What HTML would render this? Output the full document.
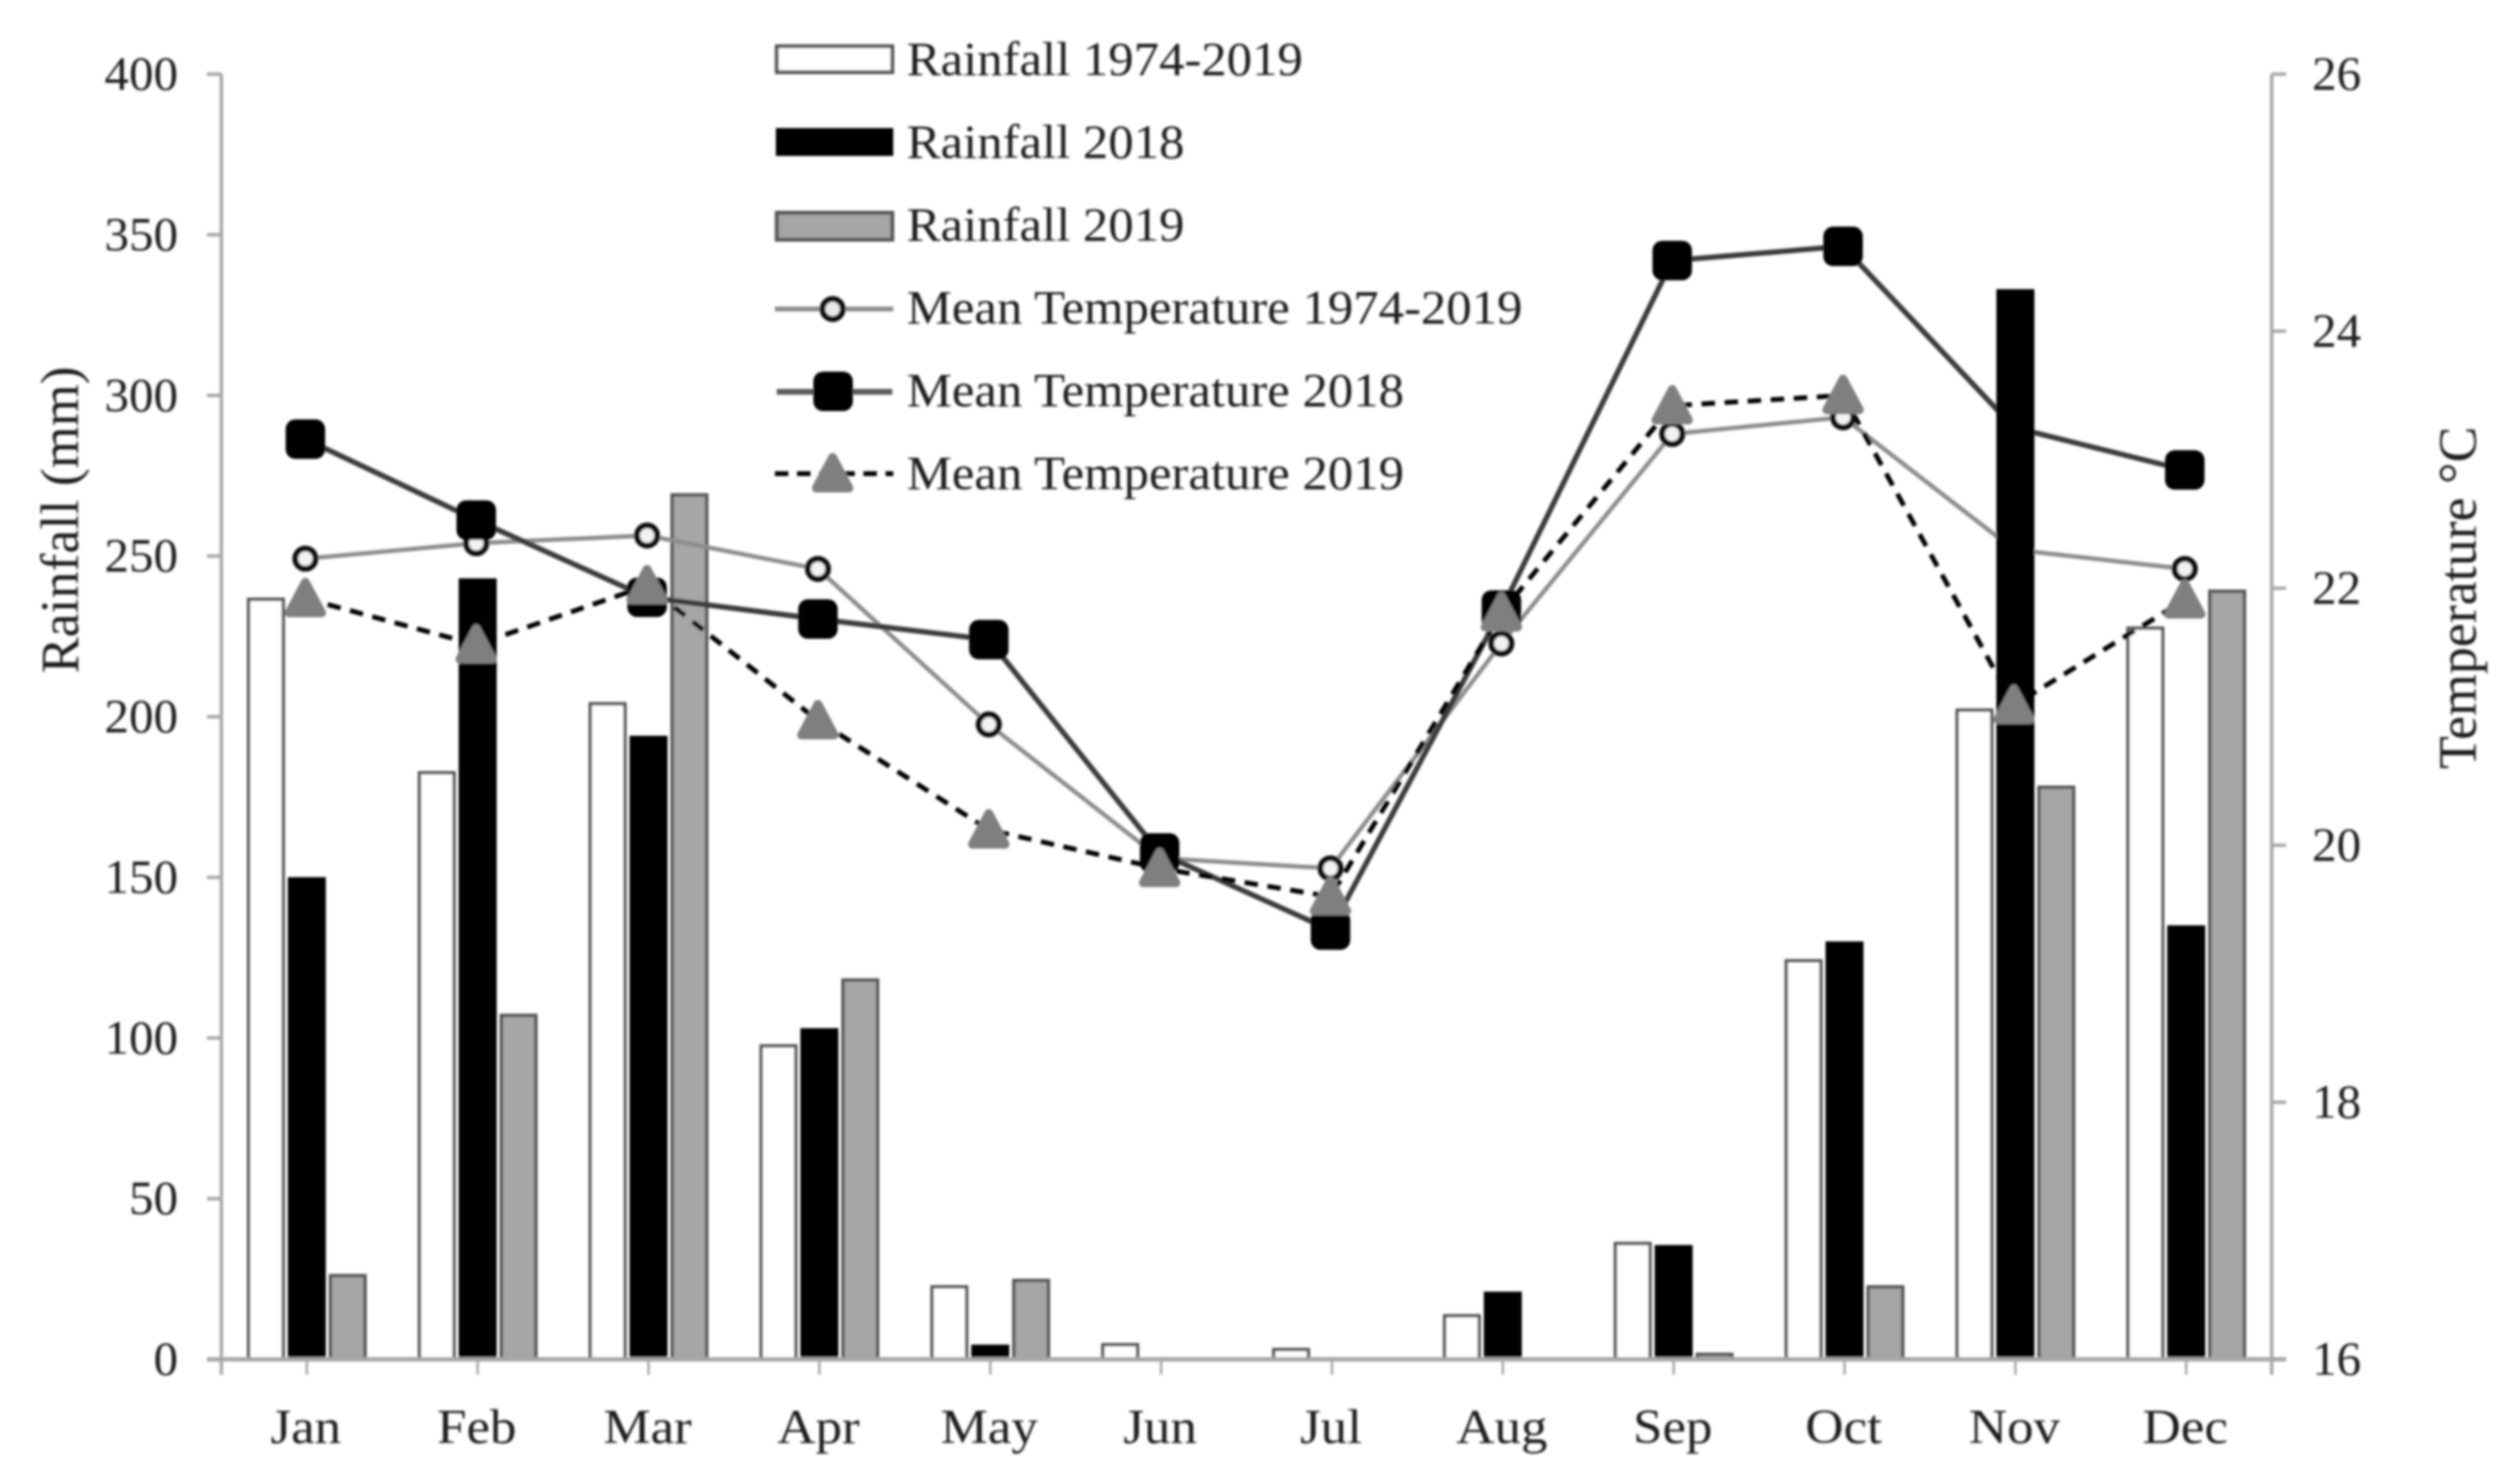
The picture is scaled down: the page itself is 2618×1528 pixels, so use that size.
<!DOCTYPE html>
<html lang="en">
<head>
<meta charset="utf-8">
<title>Rainfall and Temperature</title>
<style>
html,body{margin:0;padding:0;background:#fff;width:2618px;height:1528px;overflow:hidden}
svg{display:block}
text{font-family:"Liberation Serif",serif;fill:#1c1c1c}
</style>
</head>
<body>
<svg id="chart" xmlns="http://www.w3.org/2000/svg" width="2618" height="1528" viewBox="0 0 2618 1528">
<defs>
<filter id="soft" x="0" y="0" width="100%" height="100%" filterUnits="userSpaceOnUse" primitiveUnits="userSpaceOnUse"><feGaussianBlur stdDeviation="1.25"/></filter>
</defs>
<g id="root" filter="url(#soft)">
<g id="bars-back"></g>
<g id="lines"></g>
<g id="bars-front"></g>
<g id="axes"></g>
<g id="markers"></g>
<text transform="translate(81,540) rotate(-90)" text-anchor="middle" font-size="56">Rainfall (mm)</text>
<text transform="translate(2572,621) rotate(-90)" text-anchor="middle" font-size="56">Temperature °C</text>
<g id="legend">
  <g>
    <rect x="807" y="48" width="120" height="27" fill="#fff" stroke="#555555" stroke-width="4"/>
    <text transform="translate(942,78) scale(1.055,1)" font-size="50">Rainfall 1974-2019</text>
  </g>
  <g>
    <rect x="807" y="134" width="120" height="27" fill="#000" stroke="#000" stroke-width="2"/>
    <text transform="translate(942,164) scale(1.055,1)" font-size="50">Rainfall 2018</text>
  </g>
  <g>
    <rect x="807" y="221" width="120" height="28" fill="#a6a6a6" stroke="#555555" stroke-width="4"/>
    <text transform="translate(942,250) scale(1.055,1)" font-size="50">Rainfall 2019</text>
  </g>
  <g>
    <line x1="805" x2="928" y1="321" y2="321" stroke="#8c8c8c" stroke-width="5"/>
    <circle cx="865" cy="321" r="10.5" fill="#e8e8e8" stroke="#111111" stroke-width="6"/>
    <text transform="translate(942,336) scale(1.055,1)" font-size="50">Mean Temperature 1974-2019</text>
  </g>
  <g>
    <line x1="807" x2="927" y1="407" y2="407" stroke="#595959" stroke-width="6"/>
    <rect x="845" y="386" width="41" height="41" rx="10" fill="#000"/>
    <text transform="translate(942,422) scale(1.055,1)" font-size="50">Mean Temperature 2018</text>
  </g>
  <g>
    <line x1="805" x2="928" y1="492" y2="492" stroke="#000" stroke-width="5" stroke-dasharray="14 9"/>
    <polygon points="865,475 848,507 882,507" fill="#7f7f7f" stroke="#7f7f7f" stroke-width="9" stroke-linejoin="round"/>
    <text transform="translate(942,508) scale(1.055,1)" font-size="50">Mean Temperature 2019</text>
  </g>
</g>
</g>
<script>
const months = ['Jan','Feb','Mar','Apr','May','Jun','Jul','Aug','Sep','Oct','Nov','Dec'];
const rainfallTicks = [0,50,100,150,200,250,300,350,400];
const temperatureTicks = [16,18,20,22,24,26];
const rainfallLongTerm = [237,183,204.5,98,23,5,3.5,14,36.5,124.5,202.5,228];
const rainfall2018 = [150,243,194,103,4.5,0,0,21,35.5,130,333,135];
const rainfall2019 = [26.5,107.5,269.5,118.5,25,0,0,0,2,23,178.5,239.5];
const temperatureLongTerm = [22.23,22.35,22.41,22.15,20.94,19.9,19.82,21.57,23.2,23.33,22.3,22.15];
const temperature2018 = [23.16,22.53,21.93,21.76,21.6,19.94,19.34,21.83,24.55,24.66,23.25,22.92];
const temperature2019 = [21.92,21.56,22.02,20.97,20.12,19.82,19.6,21.81,23.42,23.5,21.09,21.91];

const NS = 'http://www.w3.org/2000/svg';
const plotLeft = 230, plotRight = 2360, plotTop = 77, plotBottom = 1412;
const band = (plotRight - plotLeft) / months.length;
const lineShift = -1.5;
function xPos(i){ return plotLeft + (i + 0.5) * band; }
function xLine(i){ return xPos(i) + lineShift; }
function yRain(v){ return plotBottom - (v / 400) * (plotBottom - plotTop); }
function yTemp(v){ return plotBottom - ((v - 16) / 10) * (plotBottom - plotTop); }
function make(tag, attrs, parent, label){
  const el = document.createElementNS(NS, tag);
  for (const k in attrs) el.setAttribute(k, attrs[k]);
  
  
  parent.appendChild(el);
  return el;
}
const barsBack = document.getElementById('bars-back');
const barsFront = document.getElementById('bars-front');
const linesG = document.getElementById('lines');
const axesG = document.getElementById('axes');
const markersG = document.getElementById('markers');

function drawBars(values, offset, fill, stroke, parent, prefix){
  values.forEach(function(v, i){
    if (v <= 0) return;
    const top = yRain(v);
    make('rect', {
      x: xPos(i) + offset - 18, y: top + 1.5, width: 36, height: Math.max(plotBottom - top - 1.5, 1),
      fill: fill, stroke: stroke, 'stroke-width': 3.5
    }, parent, prefix + '-' + months[i].toLowerCase());
  });
}
drawBars(rainfallLongTerm, -42.5, '#ffffff', '#555555', barsBack, 'bar-rainfall-1974-2019');
drawBars(rainfall2019, 42.5, '#a6a6a6', '#555555', barsBack, 'bar-rainfall-2019');
drawBars(rainfall2018, 0, '#000000', '#000000', barsFront, 'bar-rainfall-2018');

function drawLine(values, stroke, width, dash, label){
  const pts = values.map(function(v, i){ return xLine(i) + ',' + yTemp(v); }).join(' ');
  const attrs = {points: pts, fill: 'none', stroke: stroke, 'stroke-width': width, 'stroke-linejoin': 'round'};
  if (dash) attrs['stroke-dasharray'] = dash;
  make('polyline', attrs, linesG, label);
}
drawLine(temperatureLongTerm, '#8c8c8c', 4.5, null, 'line-mean-temperature-1974-2019');
drawLine(temperature2018, '#3a3a3a', 5.5, null, 'line-mean-temperature-2018');
drawLine(temperature2019, '#000000', 5, '14 10', 'line-mean-temperature-2019');

// axes
make('line', {x1: plotLeft, x2: plotLeft, y1: plotTop, y2: plotBottom + 16, stroke: '#a6a6a6', 'stroke-width': 3.5}, axesG, 'left-axis-line');
make('line', {x1: plotRight, x2: plotRight, y1: plotTop, y2: plotBottom + 16, stroke: '#a6a6a6', 'stroke-width': 3.5}, axesG, 'right-axis-line');
make('line', {x1: plotLeft - 15, x2: plotRight + 15, y1: plotBottom, y2: plotBottom, stroke: '#a6a6a6', 'stroke-width': 4.5}, axesG, 'x-axis-line');

rainfallTicks.forEach(function(t){
  const y = yRain(t);
  if (t > 0) make('line', {x1: plotLeft - 15, x2: plotLeft, y1: y, y2: y, stroke: '#a6a6a6', 'stroke-width': 3.5}, axesG, 'left-axis-tick-' + t);
  const lab = make('text', {transform: 'translate(185,' + (y + 16) + ') scale(1.02,1)', 'text-anchor': 'end', 'font-size': 50}, axesG, 'left-axis-label-' + t);
  lab.textContent = t;
});
temperatureTicks.forEach(function(t){
  const y = yTemp(t);
  if (t > 16) make('line', {x1: plotRight, x2: plotRight + 15, y1: y, y2: y, stroke: '#a6a6a6', 'stroke-width': 3.5}, axesG, 'right-axis-tick-' + t);
  const lab = make('text', {transform: 'translate(2402,' + (y + 16) + ') scale(1.02,1)', 'font-size': 50}, axesG, 'right-axis-label-' + t);
  lab.textContent = t;
});
months.forEach(function(m, i){
  make('line', {x1: xPos(i), x2: xPos(i), y1: plotBottom, y2: plotBottom + 16, stroke: '#a6a6a6', 'stroke-width': 2.5}, axesG, 'x-axis-tick-' + m.toLowerCase());
  const lab = make('text', {transform: 'translate(' + (xPos(i) - 1) + ',1499) scale(1.08,1)', 'text-anchor': 'middle', 'font-size': 51}, axesG, 'x-axis-label-' + m.toLowerCase());
  lab.textContent = m;
});

// markers
temperatureLongTerm.forEach(function(v, i){
  if (months[i] === 'Nov') return;
  make('circle', {cx: xLine(i), cy: yTemp(v), r: 10.5, fill: '#f2f2f2', stroke: '#111111', 'stroke-width': 6}, markersG, 'marker-temperature-1974-2019-' + months[i].toLowerCase());
});
temperature2018.forEach(function(v, i){
  if (months[i] === 'Nov') return;
  make('rect', {x: xLine(i) - 20.5, y: yTemp(v) - 20.5, width: 41, height: 41, rx: 10, fill: '#000'}, markersG, 'marker-temperature-2018-' + months[i].toLowerCase());
});
temperature2019.forEach(function(v, i){
  const x = xLine(i), y = yTemp(v);
  make('polygon', {
    points: x + ',' + (y - 17) + ' ' + (x - 17) + ',' + (y + 15) + ' ' + (x + 17) + ',' + (y + 15),
    fill: '#7f7f7f', stroke: '#7f7f7f', 'stroke-width': 9, 'stroke-linejoin': 'round'
  }, markersG, 'marker-temperature-2019-' + months[i].toLowerCase());
});
</script>
</svg>
</body>
</html>
